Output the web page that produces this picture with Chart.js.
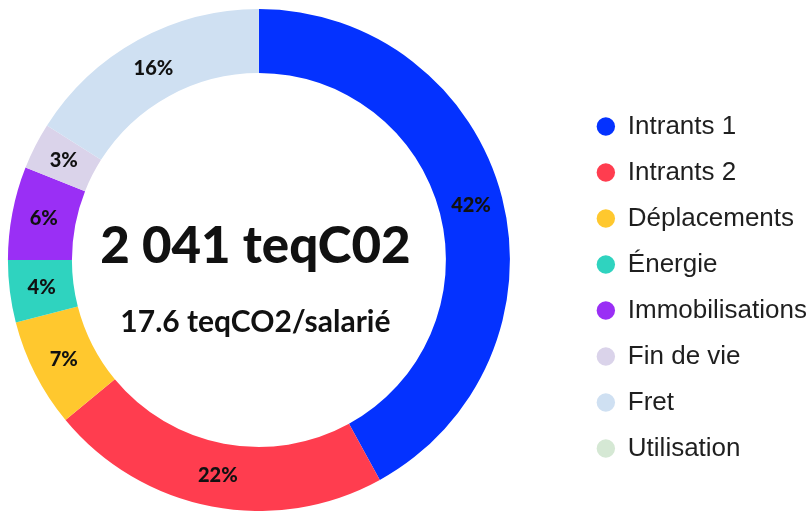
<!DOCTYPE html>
<html>
<head>
<meta charset="utf-8">
<script src="https://cdn.jsdelivr.net/npm/chart.js@4/dist/chart.umd.min.js"></script>
<style>
  html, body { margin: 0; padding: 0; background: #fff; }
  #wrap { width: 810px; height: 511px; position: relative; }
</style>
</head>
<body>
<div id="wrap"><canvas id="bilanChart"></canvas></div>
<script>
const postes = ['Intrants 1', 'Intrants 2', 'Déplacements', 'Énergie', 'Immobilisations', 'Fin de vie', 'Fret', 'Utilisation'];
const parts = [42, 22, 7, 4, 6, 3, 16, 0];
const couleurs = ['#0432ff', '#ff3d4f', '#ffc82e', '#2fd3bf', '#9a2ff5', '#dad3ea', '#cfe0f2', '#d5e8d4'];
const totalTexte = '2 041 teqC02';
const parSalarieTexte = '17.6 teqCO2/salarié';

// ring sits more to the left, legend pushed a bit to the right edge
const gapPlugin = {
    id: 'gapPlugin',
    afterLayout(chart) {
        chart.chartArea.right -= 52;
        chart.chartArea.width -= 52;
        chart.legend.left += 7;
        chart.legend.right += 7;
    }
};

// percent labels on the ring + total in the middle
const labelsPlugin = {
    id: 'labelsPlugin',
    afterDatasetsDraw(chart) {
        const ctx = chart.ctx;
        const meta = chart.getDatasetMeta(0);
        ctx.save();
        ctx.fillStyle = '#111';
        ctx.textAlign = 'center';
        ctx.textBaseline = 'middle';
        ctx.font = '900 20px Lato';
        meta.data.forEach((arc, i) => {
            if (!parts[i]) return;
            const pos = arc.tooltipPosition();
            ctx.fillText(parts[i] + '%', pos.x, pos.y);
        });

        const cx = (chart.chartArea.left + chart.chartArea.right) / 2 - 3.5;
        const cy = (chart.chartArea.top + chart.chartArea.bottom) / 2;
        ctx.textBaseline = 'alphabetic';
        ctx.font = '900 51px Lato';
        ctx.fillText(totalTexte, cx, cy + 3);
        ctx.font = 'bold 30px Lato';
        ctx.fillText(parSalarieTexte, cx, cy + 72);
        ctx.restore();
    }
};

new Chart(document.getElementById('bilanChart'), {
    type: 'doughnut',
    data: {
        labels: postes,
        datasets: [{
            data: parts,
            backgroundColor: couleurs,
            borderWidth: 0
        }]
    },
    options: {
        responsive: true,
        maintainAspectRatio: false,
        animation: false,
        cutout: '74.5%',
        layout: {
            padding: { top: 9, bottom: 0, left: 0, right: 0 }
        },
        plugins: {
            tooltip: { enabled: false },
            legend: {
                display: true,
                position: 'right',
                align: 'center',
                title: {
                    display: true,
                    text: ' ',
                    font: { size: 10, lineHeight: 1 },
                    padding: { top: 45, bottom: 0 }
                },
                labels: {
                    usePointStyle: true,
                    pointStyle: 'circle',
                    boxWidth: 18,
                    boxHeight: 13,
                    padding: 20,
                    color: '#1f1f1f',
                    font: { family: '"Liberation Sans", Arial, sans-serif', size: 26 }
                },
                onClick: () => {}
            }
        }
    },
    plugins: [gapPlugin, labelsPlugin]
});
</script>
</body>
</html>
